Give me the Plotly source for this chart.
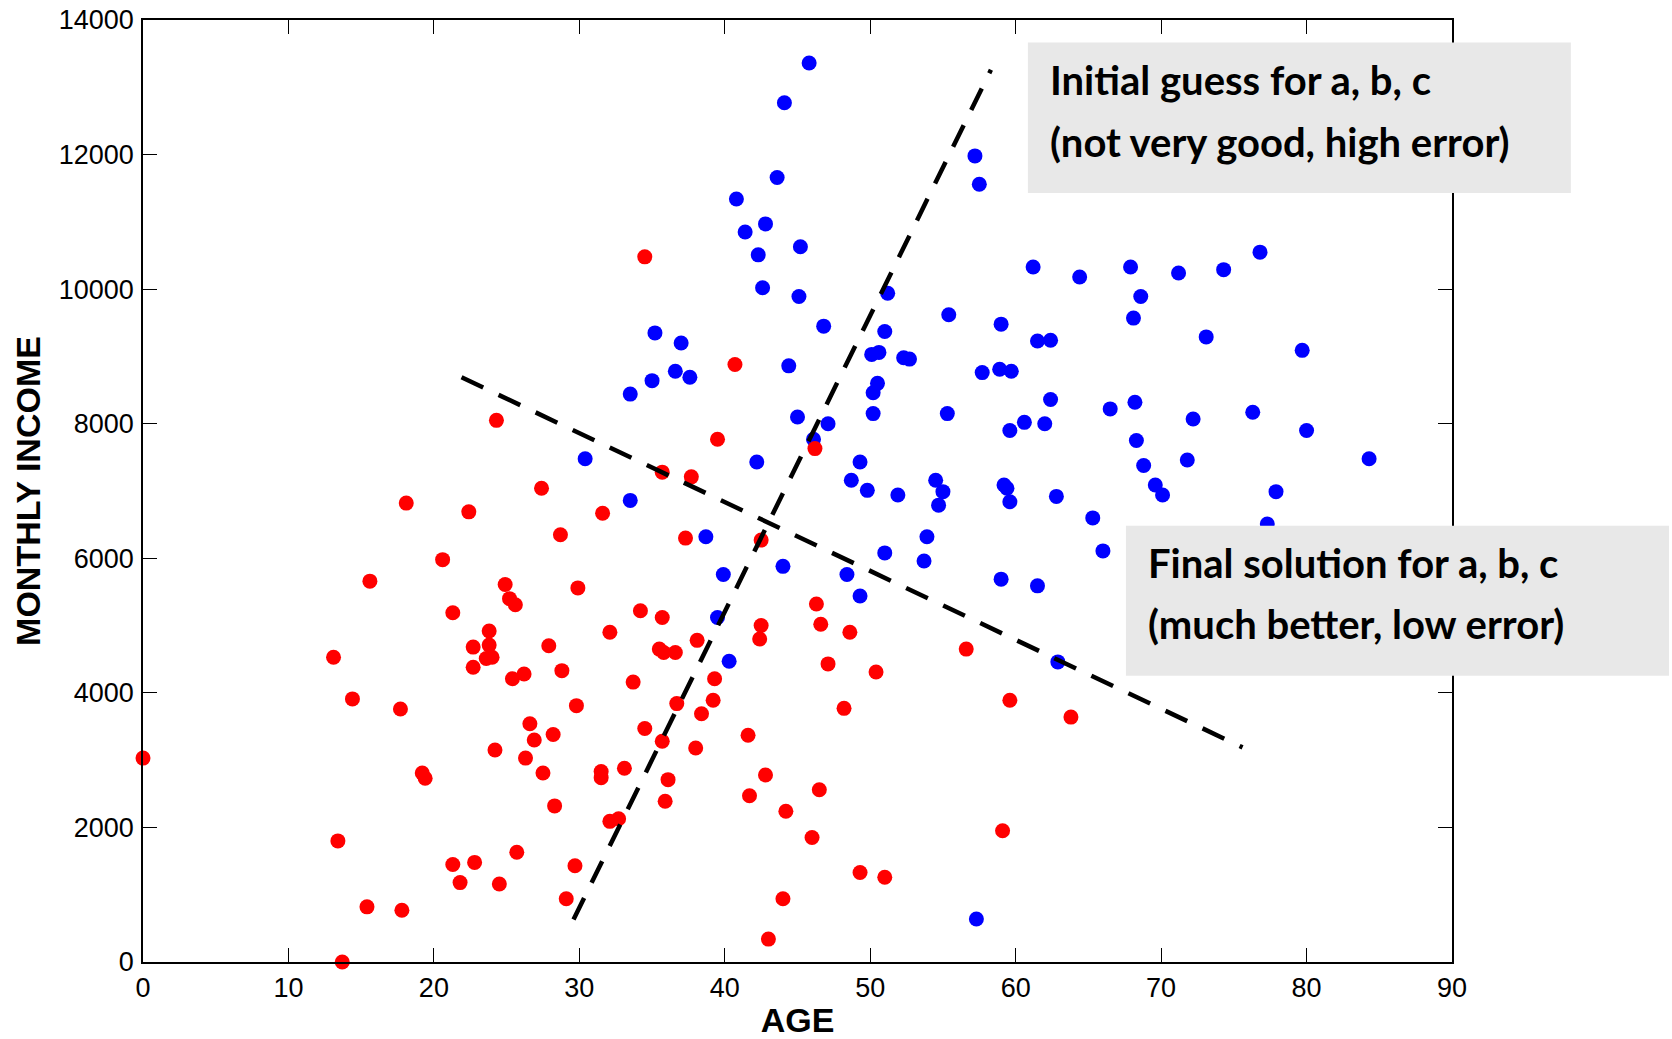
import plotly.graph_objects as go

# Customers labelled "red" class (age, monthly income)
red_age = [24.3, 27.4, 18.1, 22.4, 28.7, 20.6, 15.6, 24.9, 25.2, 25.6,
           29.9, 21.3, 23.8, 22.7, 23.8, 27.9, 13.1, 23.6, 24.0, 22.7,
           28.8, 25.4, 26.2, 14.4, 17.7, 29.8, 26.6, 28.2, 26.9, 24.2,
           26.3, 0.0, 19.2, 19.4, 27.5, 28.3, 13.4, 25.7, 21.3, 22.8,
           29.7, 21.8, 24.5, 29.1, 15.4, 17.8, 13.7, 40.7, 39.5, 46.2,
           35.7, 37.7, 31.6, 37.3, 42.5, 34.2, 35.7, 32.1, 42.5, 42.4,
           38.1, 46.3, 46.6, 48.6, 56.6, 35.5, 35.8, 36.6, 47.1, 50.4,
           33.7, 39.3, 36.7, 39.2, 38.4, 48.2, 59.6, 34.5, 35.7, 38.0,
           41.6, 31.5, 31.5, 33.1, 36.1, 42.8, 41.7, 46.5, 35.9, 44.2,
           32.1, 32.7, 46.0, 59.1, 49.3, 51.0, 44.0, 43.0, 63.8, 34.5]
red_income = [8050, 7040, 6820, 6690, 6350, 5980, 5660, 5610, 5400, 5310,
              5560, 5190, 4920, 4680, 4710, 4700, 4530, 4510, 4530, 4380,
              4330, 4210, 4280, 3910, 3760, 3810, 3540, 3380, 3300, 3150,
              3030, 3030, 2810, 2730, 2810, 2320, 1800, 1630, 1450, 1480,
              1430, 1180, 1160, 940, 820, 770, 0, 8880, 7770, 7630,
              7280, 7210, 6670, 6300, 6270, 5220, 5120, 4900, 5000, 4800,
              4780, 5320, 5020, 4900, 4650, 4650, 4600, 4600, 4430, 4310,
              4160, 4210, 3840, 3890, 3690, 3770, 3890, 3470, 3280, 3180,
              3370, 2830, 2740, 2880, 2710, 2780, 2470, 2560, 2390, 2240,
              2090, 2130, 1850, 1950, 1330, 1260, 940, 340, 3640, 10480]

# Customers labelled "blue" class (age, monthly income)
blue_age = [45.8, 44.1, 57.2, 57.5, 43.6, 40.8, 42.8, 41.4, 42.3, 45.2,
            42.6, 45.1, 46.8, 51.2, 55.4, 59.0, 51.0, 35.2, 37.0, 61.2,
            64.4, 67.9, 71.2, 74.3, 76.8, 68.6, 68.1, 61.5, 62.4, 73.1,
            79.7, 50.1, 50.6, 52.3, 52.7, 57.7, 58.9, 59.7, 36.6, 37.6,
            35.0, 33.5, 44.4, 50.5, 50.2, 45.0, 47.1, 50.2, 55.3, 59.6,
            60.6, 62.0, 46.1, 30.4, 42.2, 49.3, 48.7, 49.8, 51.9, 54.5,
            55.0, 54.7, 59.2, 59.4, 59.6, 33.5, 38.7, 53.9, 51.0, 53.7,
            44.0, 39.9, 48.4, 49.3, 59.0, 39.5, 40.3, 62.9, 57.3, 62.4,
            66.5, 68.2, 72.2, 76.3, 80.0, 68.3, 68.8, 71.8, 84.3, 69.6,
            70.1, 77.9, 62.8, 65.3, 66.0, 77.3, 61.5]
blue_income = [13360, 12770, 11980, 11560, 11660, 11340, 10970, 10850, 10510, 10630,
               10020, 9890, 9450, 9940, 9620, 9480, 9370, 9350, 9200, 10330,
               10180, 10330, 10240, 10290, 10550, 9890, 9570, 9230, 9240, 9290,
               9090, 9030, 9060, 8980, 8960, 8760, 8810, 8780, 8780, 8690,
               8640, 8440, 8860, 8600, 8460, 8100, 8000, 8150, 8150, 7900,
               8020, 8000, 7770, 7480, 7430, 7430, 7160, 7010, 6940, 7160,
               6990, 6790, 7090, 7040, 6840, 6860, 6320, 6320, 6080, 5960,
               5880, 5760, 5760, 5440, 5690, 5120, 4470, 4460, 640, 8360,
               8220, 8320, 8070, 8170, 7900, 7750, 7380, 7460, 7480, 7090,
               6940, 6990, 6920, 6600, 6110, 6510, 5590]

# Decision boundaries: end points (age, income)
initial_age = [29.6, 58.3]
initial_income = [630, 13260]
final_age = [21.9, 75.6]
final_income = [8690, 3190]

x_ticks = [0, 10, 20, 30, 40, 50, 60, 70, 80, 90]
y_ticks = [0, 2000, 4000, 6000, 8000, 10000, 12000, 14000]

fig = go.Figure()
fig.add_trace(go.Scatter(x=blue_age, y=blue_income, mode="markers",
                         marker=dict(color="#0000ff", size=15, line=dict(width=0)),
                         showlegend=False, cliponaxis=False))
fig.add_trace(go.Scatter(x=red_age, y=red_income, mode="markers",
                         marker=dict(color="#ff0000", size=15, line=dict(width=0)),
                         showlegend=False, cliponaxis=False))
for xs, ys in [(initial_age, initial_income), (final_age, final_income)]:
    fig.add_trace(go.Scatter(x=xs, y=ys, mode="lines",
                             line=dict(color="black", width=4.5, dash="24px,17px"),
                             showlegend=False))

axis_common = dict(showline=True, linecolor="black", linewidth=1.5, mirror="ticks",
                   ticks="inside", ticklen=14, tickwidth=1, tickcolor="black",
                   showgrid=False, zeroline=False, automargin=False,
                   tickfont=dict(family="Liberation Sans, Arial", size=27, color="black"))

fig.update_xaxes(range=[0, 90], tickvals=x_ticks, ticklabelstandoff=1,
                 title=dict(text="<b>AGE</b>", standoff=15,
                            font=dict(family="Liberation Sans, Arial", size=34, color="black")),
                 **axis_common)
fig.update_yaxes(range=[0, 14000], tickvals=y_ticks, tickformat="d", ticklabelstandoff=2,
                 title=dict(text="<b>MONTHLY INCOME</b>", standoff=8,
                            font=dict(family="Liberation Sans, Arial", size=34, color="black")),
                 **axis_common)

# Grey callout boxes (paper coordinates)
boxes = [(0.676, 0.8164, 1.0908, 0.976), (0.7509, 0.3038, 1.1658, 0.4630)]
for x0, y0, x1, y1 in boxes:
    fig.add_shape(type="rect", xref="paper", yref="paper", x0=x0, x1=x1, y0=y0, y1=y1,
                  fillcolor="#e8e8e8", line=dict(width=0), layer="above")

notes = [
    (0.6913, 0.936, "Initial guess for a, b, c"),
    (0.6913, 0.871, "(not very good, high error)"),
    (0.7661, 0.424, "Final solution for a, b, c"),
    (0.7661, 0.359, "(much better, low error)"),
]
for x, y, t in notes:
    fig.add_annotation(x=x, y=y, xref="paper", yref="paper", text="<b>" + t + "</b>",
                       showarrow=False, xanchor="left", yanchor="middle",
                       font=dict(family="Lato, Open Sans", size=40, color="black"))

fig.update_layout(width=1672, height=1039, plot_bgcolor="white", paper_bgcolor="white",
                  margin=dict(l=143, r=220, t=20, b=77, autoexpand=False))

fig.write_html("out.html")
